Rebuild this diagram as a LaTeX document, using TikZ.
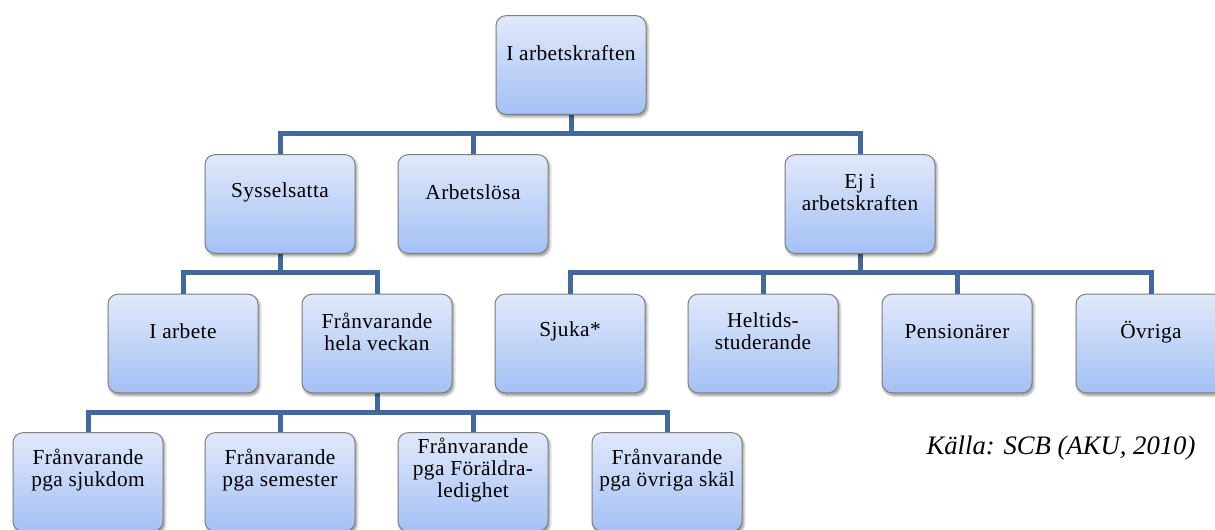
\documentclass[tikz,border=0pt]{standalone}
\usepackage{fontspec}
\setmainfont{Liberation Serif}
\newfontfamily\boxfont[LetterSpace=2]{Liberation Serif}
\usetikzlibrary{shadows.blur,backgrounds}
\definecolor{boxtop}{HTML}{E0E9FA}
\definecolor{boxbot}{HTML}{A4C0F5}
\definecolor{boxline}{HTML}{7F7F7F}
\definecolor{connblue}{HTML}{41699D}
\tikzset{
  orgbox/.style={rectangle, rounded corners=7.5pt, draw=boxline, line width=0.75pt,
    top color=boxtop, bottom color=boxbot, minimum width=112.5pt, minimum height=74pt,
    inner sep=0pt,
    blur shadow={shadow xshift=1.2pt, shadow yshift=-1.8pt, shadow blur steps=6,
      shadow blur radius=2pt, shadow opacity=45}},
  boxtext/.style={align=center, inner sep=0pt, text=black,
    font=\boxfont\fontsize{16}{16.5}\selectfont},
  conn/.style={draw=connblue, line width=3.75pt, line join=miter, line cap=butt},
  srctext/.style={anchor=base, inner sep=0pt, font=\fontsize{20}{24}\selectfont\itshape}
}
\newcommand\obox[4]{%
  \node[orgbox] (#1) at (#2,#3) {};
  \node[boxtext] (#1t) at ([yshift=-28.5pt]#1.north) {#4};}
\begin{document}
\begin{tikzpicture}[x=0.75pt,y=-0.75pt]
\useasboundingbox (0,0) rectangle (1215,530);
% level 0
\obox{top}{571}{65}{I arbetskraften}
% level 1
\obox{syss}{280}{204}{Sysselsatta}
\obox{arbl}{473}{204}{Arbetslösa}
\obox{ejak}{860}{204}{Ej i\\arbetskraften}
% level 2
\obox{iarb}{183}{343.5}{I arbete}
\obox{fhv}{377}{343.5}{Frånvarande\\hela veckan}
\obox{sjuka}{570}{343.5}{Sjuka*}
\obox{helt}{763}{343.5}{Heltids-\\studerande}
\obox{pens}{957}{343.5}{Pensionärer}
\obox{ovr}{1151}{343.5}{Övriga}
% level 3
\obox{fsj}{88}{482}{Frånvarande\\pga sjukdom}
\obox{fsem}{280}{482}{Frånvarande\\pga semester}
\obox{ffor}{473}{482}{Frånvarande\\pga Föräldra-\\ledighet}
\obox{fovr}{667}{482}{Frånvarande\\pga övriga skäl}
% source
\node[srctext] (src) at (1061,455) {Källa: SCB (AKU, 2010)};
% connectors
\begin{scope}[on background layer]
\coordinate (j0) at (571,134);
\coordinate (j1) at (280,273);
\coordinate (j2) at (860,273);
\coordinate (j3) at (377,413);
\draw[conn] (top.south) -- (j0) -| (syss.north);
\draw[conn] (j0) -| (arbl.north);
\draw[conn] (j0) -| (ejak.north);
\draw[conn] (syss.south) -- (j1) -| (iarb.north);
\draw[conn] (j1) -| (fhv.north);
\draw[conn] (ejak.south) -- (j2) -| (sjuka.north);
\draw[conn] (j2) -| (helt.north);
\draw[conn] (j2) -| (pens.north);
\draw[conn] (j2) -| (ovr.north);
\draw[conn] (fhv.south) -- (j3) -| (fsj.north);
\draw[conn] (j3) -| (fsem.north);
\draw[conn] (j3) -| (ffor.north);
\draw[conn] (j3) -| (fovr.north);
\end{scope}
\end{tikzpicture}
\end{document}
